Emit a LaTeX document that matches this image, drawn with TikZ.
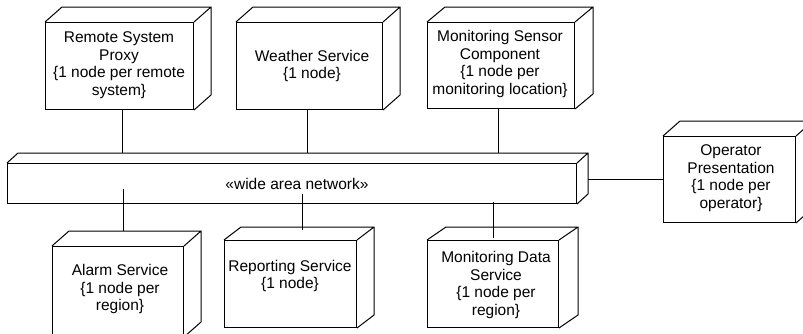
\documentclass[tikz,border=0pt]{standalone}
\usepackage{fontspec}
\setmainfont{Liberation Sans}
\newcommand\ddbox[7]{%
  \node[box, minimum width={#4-#2}, minimum height={#5-#3}] (#1) at (#2,#3) {};
  \draw[link] (#1.north west) -- ++(#6,-#7) -- ([shift={(#6,-#7)}]#1.north east)
     -- ([shift={(#6,-#7)}]#1.south east) -- (#1.south east)
     (#1.north east) -- ++(#6,-#7);
}
\begin{document}
\begin{tikzpicture}[x=1pt,y=-1pt,
  box/.style={draw, line width=1pt, fill=white, inner sep=0pt, anchor=north west},
  lbl/.style={align=center, font=\fontsize{15.5}{17.5}\selectfont, inner sep=0pt},
  link/.style={line width=1pt, line join=miter}]
\useasboundingbox (0,0) rectangle (803,333);

\ddbox{rsp}{45}{22}{193}{109}{17}{15}
\ddbox{ws}{236}{22}{382}{109}{17}{15}
\ddbox{msc}{427}{22}{574}{108}{18}{15}
\ddbox{net}{7}{163}{576}{203}{11}{10}
\ddbox{op}{663}{136}{795}{222}{17}{15}
\ddbox{al}{52}{246}{183}{336}{17}{15}
\ddbox{rep}{224}{240}{356}{327}{17}{13}
\ddbox{mds}{427}{240}{558}{327}{19}{13}

\coordinate (nettop) at ([shift={(0,-10)}]net.north);
\coordinate (netside) at ([shift={(11,0)}]net.east);

\draw[link] ([xshift=3pt]rsp.south) -- ([xshift=3pt]rsp.south |- nettop);
\draw[link] ([xshift=-2pt]ws.south) -- ([xshift=-2pt]ws.south |- nettop);
\draw[link] ([xshift=-2.5pt]msc.south) -- ([xshift=-2.5pt]msc.south |- nettop);
\draw[link] ([shift={(5.5,-15)}]al.north) -- ([shift={(5.5,-15)}]al.north |- net.south);
\draw[link] ([shift={(12,-10)}]rep.north) -- ([shift={(12,-10)}]rep.north |- net.south);
\draw[link] ([shift={(0,-2)}]mds.north) -- ([shift={(0,-2)}]mds.north |- net.south);
\draw[link] (op.west) -- (op.west -| netside);

\node[lbl] (rspT) at (119,65) {Remote System\\Proxy\\\{1 node per remote\\system\}};
\node[lbl] (wsT) at (312,66) {Weather Service\\\{1 node\}};
\node[lbl] (mscT) at (500,64) {Monitoring Sensor\\Component\\\{1 node per\\monitoring location\}};
\node[lbl] (netT) at (297,184) {«wide area network»};
\node[lbl] (opT) at (731,178) {Operator\\Presentation\\\{1 node per\\operator\}};
\node[lbl] (alT) at (120,289) {Alarm Service\\\{1 node per\\region\}};
\node[lbl] (repT) at (290,276) {Reporting Service\\\{1 node\}};
\node[lbl] (mdsT) at (496,285) {Monitoring Data\\Service\\\{1 node per\\region\}};
\end{tikzpicture}
\end{document}
